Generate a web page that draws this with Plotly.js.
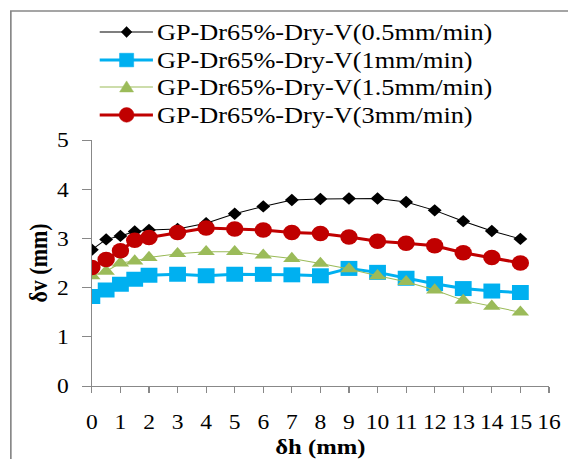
<!DOCTYPE html>
<html>
<head>
<meta charset="utf-8">
<script src="https://cdn.plot.ly/plotly-3.0.1.min.js"></script>
<style>
  html, body { margin: 0; padding: 0; background: #fff; overflow: hidden; }
  /* the chart is laid out narrower and widened horizontally */
  #chart { width: 507px; height: 459px; transform: scaleX(1.1203); transform-origin: 0 0; }
</style>
</head>
<body>
<div id="chart"></div>
<script>
// Horizontal displacement positions (mm)
const dh = [0, 0.5, 1, 1.5, 2, 3, 4, 5, 6, 7, 8, 9, 10, 11, 12, 13, 14, 15];

// Vertical displacement (mm) for each shearing rate
const v05 = [2.77, 2.98, 3.05, 3.14, 3.17, 3.19, 3.31, 3.50, 3.65, 3.78, 3.80, 3.81, 3.81, 3.74, 3.57, 3.35, 3.15, 2.99];
const v1  = [1.82, 1.95, 2.07, 2.17, 2.25, 2.27, 2.24, 2.27, 2.27, 2.26, 2.24, 2.39, 2.31, 2.19, 2.08, 1.98, 1.93, 1.90];
const v15 = [2.24, 2.33, 2.50, 2.54, 2.61, 2.69, 2.73, 2.73, 2.66, 2.59, 2.49, 2.38, 2.24, 2.12, 1.95, 1.74, 1.62, 1.50];
const v3  = [2.41, 2.57, 2.75, 2.96, 3.02, 3.12, 3.21, 3.19, 3.17, 3.12, 3.10, 3.03, 2.94, 2.90, 2.85, 2.71, 2.61, 2.50];

const names = [
  'GP-Dr65%-Dry-V(0.5mm/min)',
  'GP-Dr65%-Dry-V(1mm/min)',
  'GP-Dr65%-Dry-V(1.5mm/min)',
  'GP-Dr65%-Dry-V(3mm/min)'
];
const colors = ['#000000', '#00B0F0', '#9BBB59', '#C00000'];
const widths = [1, 3, 1, 3];
const symbols = ['diamond', 'square', 'triangle-up', 'circle'];
const sizes = [9.5, 15, 13.5, 15.5];
const xTicks = [0, 1, 2, 3, 4, 5, 6, 7, 8, 9, 10, 11, 12, 13, 14, 15, 16];
const yTicks = [0, 1, 2, 3, 4, 5];

const serif = 'Liberation Serif, Times New Roman, serif';
const series = [v05, v1, v15, v3];

const W = 507, H = 459;
const M = { l: 82.1, r: 17, t: 140, b: 73 };
const plotW = W - M.l - M.r, plotH = H - M.t - M.b;

const traces = series.map((v, i) => ({
  x: dh, y: v, name: names[i], mode: 'lines+markers',
  line: { color: colors[i], width: widths[i] },
  marker: { symbol: symbols[i], size: sizes[i], color: colors[i] }
}));

// Legend rows above the plot: sample line, symbol and label per series
const rowY = [1.439, 1.325, 1.215, 1.102];   // fractions of the plot height
const legendX = 0.076;                         // symbol centre, fraction of the plot width

// symbol outlines as pixel offsets from the symbol centre (y up)
const symbolPts = [
  [[0, 5.5], [4.8, 0], [0, -5.5], [-4.8, 0]],
  [[-6.3, -6.8], [6.3, -6.8], [6.3, 6.8], [-6.3, 6.8]],
  [[-6.2, -4.8], [6.2, -4.8], [0, 6.2]],
  null
];
const shapes = [];
const annotations = [];
rowY.forEach((y, i) => {
  shapes.push({
    type: 'line', xref: 'paper', yref: 'paper',
    x0: 7 / plotW, x1: 54.5 / plotW, y0: y, y1: y,
    line: { color: colors[i], width: widths[i] }
  });
  const pts = symbolPts[i];
  if (pts) {
    const d = 'M' + pts.map(p => (legendX + p[0] / plotW).toFixed(5) + ',' + (y + p[1] / plotH).toFixed(5)).join('L') + 'Z';
    shapes.push({ type: 'path', xref: 'paper', yref: 'paper', path: d,
      fillcolor: colors[i], line: { color: colors[i], width: 0.5 } });
  } else {
    shapes.push({ type: 'circle', xref: 'paper', yref: 'paper',
      x0: legendX - 6.6 / plotW, x1: legendX + 6.6 / plotW,
      y0: y - 7.3 / plotH, y1: y + 7.3 / plotH,
      fillcolor: colors[i], line: { color: colors[i], width: 0.5 } });
  }
  annotations.push({
    xref: 'paper', yref: 'paper', x: 0, y: y, xshift: 56, xanchor: 'left', yanchor: 'middle',
    text: names[i], showarrow: false, font: { family: serif, size: 23.5, color: '#000' }
  });
});

// Outer frame around the figure
shapes.push({
  type: 'rect', xref: 'paper', yref: 'paper',
  x0: -81 / 457, x1: 1.2, y0: -0.6, y1: (386 - 11) / 246,
  line: { color: '#888', width: 1.5 }, fillcolor: 'rgba(0,0,0,0)', layer: 'below'
});

const layout = {
  width: W, height: H,
  margin: M,
  paper_bgcolor: '#ffffff', plot_bgcolor: '#ffffff',
  font: { family: serif, size: 21, color: '#000' },
  showlegend: false,
  xaxis: {
    range: [0, 16], tickvals: xTicks, ticktext: xTicks.map(String),
    showline: true, linecolor: '#888', linewidth: 1,
    ticks: 'outside', ticklen: 6, tickcolor: '#888',
    showgrid: false, zeroline: false, ticklabelstandoff: 11,
    tickfont: { family: serif, size: 21 },
    title: { text: '<b>δh (mm)</b>', font: { family: serif, size: 22 }, standoff: 0 }
  },
  yaxis: {
    range: [0, 5], tickvals: yTicks,
    showline: true, linecolor: '#888', linewidth: 1,
    ticks: 'outside', ticklen: 7.5, tickcolor: '#888',
    showgrid: false, zeroline: false, ticklabelstandoff: 8,
    tickfont: { family: serif, size: 21 },
    title: { text: '<b>δv (mm)</b>', font: { family: serif, size: 22 }, standoff: 2 }
  },
  shapes: shapes,
  annotations: annotations
};

Plotly.newPlot('chart', traces, layout, { displayModeBar: false, staticPlot: true });
</script>
</body>
</html>
